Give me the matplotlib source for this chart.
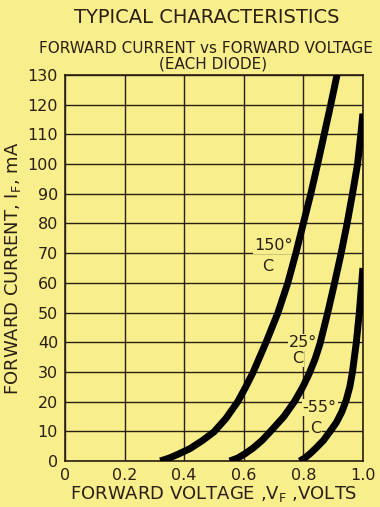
import numpy as np
import matplotlib.pyplot as plt

# forward current (mA) vs forward voltage (V)
i_150 = [0, 1, 2.3, 4.2, 6.8, 9.8, 14.3, 20, 25, 30, 40, 50, 60, 70, 80,
         90, 100, 110, 120, 130]
v_150 = [0.32, 0.35, 0.38, 0.42, 0.46, 0.50, 0.54, 0.58, 0.607, 0.632,
         0.675, 0.715, 0.748, 0.775, 0.80, 0.825, 0.848, 0.87, 0.892, 0.913]

i_25 = [0, 1, 2.5, 4.4, 7, 10, 15, 20, 24.7, 29.5, 34.5, 39.5, 50, 60, 70,
        80, 90, 100, 110, 117]
v_25 = [0.553, 0.58, 0.605, 0.632, 0.662, 0.69, 0.735, 0.77, 0.797, 0.82,
        0.84, 0.856, 0.882, 0.905, 0.927, 0.947, 0.965, 0.982, 0.993, 1.0]

i_m55 = [0, 1, 2.5, 4.4, 7, 10, 13, 16.5, 20.5, 25, 30, 40, 50, 60, 65]
v_m55 = [0.788, 0.805, 0.823, 0.843, 0.868, 0.89, 0.911, 0.929, 0.944, 0.956,
         0.965, 0.978, 0.988, 0.996, 1.0]

x_ticks = [0, 0.2, 0.4, 0.6, 0.8, 1.0]
x_labels = ["0", "0.2", "0.4", "0.6", "0.8", "1.0"]
y_ticks = list(range(0, 131, 10))

bg = "#f8ef8c"
ink = "#2a1f12"

fig = plt.figure(figsize=(3.8, 5.07), dpi=100, facecolor=bg)
ax = fig.add_axes([0.171, 0.0907, 0.784, 0.7613], facecolor=bg)

for v, i in [(v_150, i_150), (v_25, i_25), (v_m55, i_m55)]:
    ax.plot(v, i, color="black", lw=5.0, solid_capstyle="butt",
            solid_joinstyle="round", zorder=3)

ax.set_xlim(0, 1.0)
ax.set_ylim(0, 130)
ax.set_xticks(x_ticks)
ax.set_xticklabels(x_labels)
ax.set_yticks(y_ticks)
ax.grid(True, color=ink, lw=1.0, zorder=1)
ax.set_axisbelow(True)
ax.tick_params(length=0, labelsize=11.5, colors=ink, pad=5)
for s in ax.spines.values():
    s.set_color(ink)
    s.set_linewidth(1.2)

box = dict(boxstyle="square,pad=0.05", fc=bg, ec="none")
labels = [("150°", 0.70, 72.5), ("C", 0.68, 65.5),
          ("25°", 0.80, 40), ("C", 0.78, 34.5),
          ("-55°", 0.855, 18), ("C", 0.84, 11)]
for txt, x, y in labels:
    ax.text(x, y, txt, ha="center", va="center", fontsize=11.5, color=ink,
            bbox=box, zorder=2)

ax.set_xlabel("FORWARD VOLTAGE ,V$_\\mathregular{F}$ ,VOLTS", fontsize=13,
              color=ink, labelpad=1)
ax.set_ylabel("FORWARD CURRENT, I$_\\mathregular{F}$, mA", fontsize=13,
              color=ink, labelpad=3)

fig.text(0.545, 0.965, "TYPICAL CHARACTERISTICS", ha="center", va="center",
         fontsize=14, color=ink)
fig.text(0.542, 0.905, "FORWARD CURRENT vs FORWARD VOLTAGE", ha="center",
         va="center", fontsize=11, color=ink)
fig.text(0.56, 0.874, "(EACH DIODE)", ha="center", va="center",
         fontsize=11, color=ink)

fig.savefig("out.png", dpi=100, facecolor=bg)
